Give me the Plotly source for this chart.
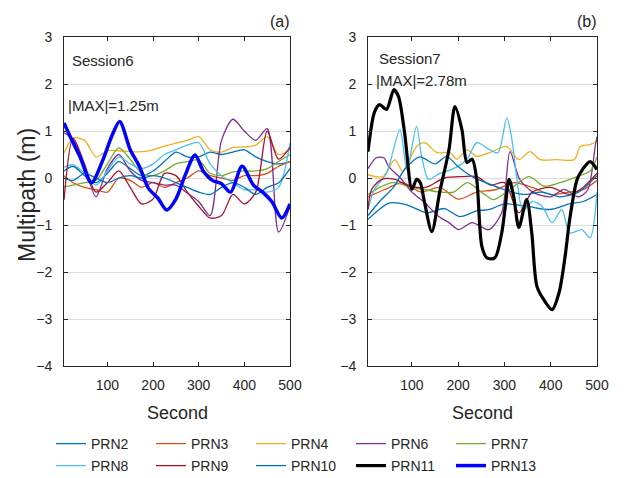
import plotly.graph_objects as go

# ---------------- data ----------------
prn_names = ["PRN2", "PRN3", "PRN4", "PRN6", "PRN7", "PRN8", "PRN9", "PRN10", "PRN11", "PRN13"]
prn_colors = ["#0072BD", "#D95319", "#EDB120", "#7E2F8E", "#77AC30",
              "#4DBEEE", "#A2142F", "#0072BD", "#000000", "#0000FF"]
x_ticks = [100, 200, 300, 400, 500]
y_ticks = [3, 2, 1, 0, -1, -2, -3, -4]

# Session 6 (panel a) - common time grid for thin lines
t_a = [5, 25, 50, 75, 100, 125, 150, 175, 200, 225, 250, 275, 300, 325, 350, 375, 400, 425, 450, 475, 500]
a_prn2 = [0.15, 0.25, 0.05, -0.1, 0.1, 0.35, 0.2, 0.05, 0.15, 0.35, 0.55, 0.45, 0.45, 0.55, 0.5, 0.55, 0.6, 0.45, 0.35, 0.3, 0.35]
a_prn3 = [0.05, -0.1, -0.2, -0.25, -0.3, 0.0, -0.05, -0.2, -0.1, -0.2, -0.1, 0.0, 0.15, 0.05, 0.0, -0.05, 0.05, 0.05, 0.1, 0.25, 0.35]
a_prn4 = [0.53, 0.85, 0.8, 0.45, 0.58, 0.58, 0.56, 0.56, 0.6, 0.68, 0.74, 0.8, 0.88, 0.6, 0.55, 0.65, 0.66, 0.7, 0.88, 0.5, 0.6]
a_prn6 = [0.96, 0.82, 0.25, -0.4, 0.2, 0.5, 0.15, -0.05, -0.1, -0.15, -0.15, -0.32, -0.5, -0.8, 0.8, 1.25, 1.0, 0.8, 1.05, -1.15, -0.6]
a_prn7 = [-0.19, -0.15, -0.1, -0.05, 0.3, 0.64, 0.4, 0.1, 0.05, 0.15, 0.3, 0.35, 0.38, 0.1, 0.05, 0.13, 0.15, 0.15, 0.2, 0.35, 0.5]
a_prn8 = [0.23, 0.28, 0.1, -0.15, 0.15, 0.45, 0.3, 0.2, 0.3, 0.5, 0.6, 0.7, 0.75, 0.3, 0.05, -0.1, -0.25, -0.25, -0.3, -0.2, 0.75]
a_prn9 = [-0.47, 0.85, 0.3, -0.3, -0.1, 0.15, -0.2, -0.55, -0.45, 0.1, 0.05, -0.3, -0.6, -0.85, -0.8, -0.35, -0.55, -0.3, 1.0, 0.4, 0.65]
a_prn10 = [0.0, -0.05, 0.1, 0.0, -0.1, 0.0, 0.05, 0.0, 0.05, 0.0, -0.1, -0.2, -0.3, -0.35, -0.2, -0.1, -0.2, -0.35, -0.2, -0.1, 0.2]
# PRN13 (thick) in panel a
t_a13 = [5, 20, 40, 65, 90, 110, 127, 150, 170, 190, 210, 230, 250, 270, 292, 310, 330, 350, 370, 395, 420, 440, 460, 482, 500]
a_prn13 = [1.17, 0.85, 0.45, -0.1, 0.38, 0.9, 1.2, 0.6, 0.25, -0.22, -0.42, -0.68, -0.45, 0.05, 0.49, 0.15, -0.05, -0.12, -0.3, 0.25, -0.15, -0.3, -0.5, -0.85, -0.55]

# Session 7 (panel b)
t_b2 = [5, 52, 89, 132, 170, 203, 240, 268, 300, 348, 398, 440, 470, 500]
b_prn2 = [-0.88, -0.53, -0.57, -0.74, -0.65, -0.82, -0.7, -0.67, -0.55, -0.6, -0.67, -0.55, -0.5, -0.35]
t_b3 = [5, 40, 80, 120, 160, 200, 240, 280, 320, 360, 400, 440, 470, 500]
b_prn3 = [-0.4, -0.25, -0.1, -0.3, -0.2, -0.45, -0.3, -0.25, -0.1, -0.2, -0.35, -0.3, -0.25, -0.05]
t_b4 = [5, 37, 63, 80, 110, 128, 154, 182, 197, 219, 240, 268, 305, 331, 355, 377, 414, 451, 464, 485, 500]
b_prn4 = [0.07, 0.03, 0.39, 0.14, 0.67, 0.75, 0.54, 0.54, 0.4, 0.6, 0.46, 0.54, 0.67, 0.39, 0.56, 0.39, 0.39, 0.39, 0.67, 0.71, 0.78]
t_b6 = [5, 23, 39, 50, 75, 100, 125, 158, 180, 201, 230, 266, 294, 312, 333, 363, 400, 429, 460, 480, 496, 500]
b_prn6 = [0.2, 0.43, 0.43, 0.24, 0.0, -0.3, -0.5, -0.82, -0.95, -1.1, -0.95, -1.1, -0.74, 0.56, -0.03, -0.31, -0.4, -0.24, -0.4, -0.25, 0.67, 0.88]
t_b7 = [5, 30, 60, 100, 130, 160, 190, 220, 250, 277, 312, 353, 385, 420, 457, 485, 500]
b_prn7 = [-0.35, -0.2, -0.1, -0.2, -0.25, -0.3, -0.3, -0.1, -0.3, -0.46, -0.24, 0.03, -0.17, -0.1, 0.03, 0.15, 0.45]
t_b8 = [5, 19, 45, 74, 89, 110, 121, 136, 160, 190, 219, 240, 268, 286, 305, 316, 327, 340, 360, 381, 403, 424, 441, 467, 485, 500]
b_prn8 = [-0.67, -0.24, 0.1, 1.03, 0.18, 1.1, 0.46, -0.03, 0.1, 0.2, 0.4, 0.75, 0.6, 0.54, 1.28, 0.82, -0.03, -0.7, -0.5, -0.6, -0.95, -0.67, -1.17, -1.1, -1.27, -0.3]
t_b9 = [5, 13, 35, 63, 93, 130, 170, 210, 240, 270, 300, 331, 360, 400, 440, 470, 500]
b_prn9 = [-0.67, -0.24, -0.03, -0.03, -0.17, -0.2, 0.0, 0.03, 0.03, -0.15, -0.1, -0.74, -0.3, -0.2, -0.35, -0.2, 0.1]
t_b10 = [5, 30, 60, 84, 117, 150, 175, 200, 230, 260, 300, 340, 380, 420, 460, 500]
b_prn10 = [-0.8, -0.5, -0.2, 0.18, 0.45, 0.3, 0.46, 0.24, 0.03, -0.1, -0.25, -0.35, -0.3, -0.4, -0.3, 0.05]
t_b11 = [5, 19, 30, 45, 61, 71, 84, 100, 110, 118, 126, 143, 160, 180, 193, 208, 219, 230, 240, 251, 262, 279, 294, 301, 310, 320, 331, 348, 359, 370, 385, 403, 418, 431, 441, 457, 470, 485, 500]
b_prn11 = [0.56, 1.4, 1.56, 1.46, 1.88, 1.73, 0.97, -0.24, -0.03, -0.1, -0.46, -1.14, -0.3, 0.6, 1.52, 1.03, 0.33, 0.4, -0.03, -1.45, -1.7, -1.7, -1.17, -0.67, -0.03, -0.4, -1.05, -0.46, -1.17, -2.3, -2.59, -2.8, -2.44, -1.67, -0.88, -0.03, 0.2, 0.35, 0.18]

# ---------------- figure ----------------
W, H = 632, 478
def fx(p):
    return p / W
def fy(p):
    return 1 - p / H

FONT = "Liberation Sans, Arial, sans-serif"
TXT = "#262626"

panel_a = {
    "PRN2": (t_a, a_prn2), "PRN3": (t_a, a_prn3), "PRN4": (t_a, a_prn4),
    "PRN6": (t_a, a_prn6), "PRN7": (t_a, a_prn7), "PRN8": (t_a, a_prn8),
    "PRN9": (t_a, a_prn9), "PRN10": (t_a, a_prn10), "PRN13": (t_a13, a_prn13),
}
panel_b = {
    "PRN2": (t_b2, b_prn2), "PRN3": (t_b3, b_prn3), "PRN4": (t_b4, b_prn4),
    "PRN6": (t_b6, b_prn6), "PRN7": (t_b7, b_prn7), "PRN8": (t_b8, b_prn8),
    "PRN9": (t_b9, b_prn9), "PRN10": (t_b10, b_prn10), "PRN11": (t_b11, b_prn11),
}
thick = {"PRN11": 3.2, "PRN13": 3.5}

fig = go.Figure()

def add_panel(panel, xa, ya):
    names = [n for n in prn_names if n in panel and n not in thick] + \
            [n for n in prn_names if n in panel and n in thick]
    for n in names:
        i = prn_names.index(n)
        t, v = panel[n]
        show = (n != "PRN11") if xa == "x" else (n == "PRN11")
        fig.add_trace(go.Scatter(
            x=t, y=v, mode="lines", name=n,
            line=dict(color=prn_colors[i], width=thick.get(n, 1.3),
                      shape="spline", smoothing=0.8),
            xaxis=xa, yaxis=ya, showlegend=show,
            legend="legend" if i < 5 else "legend2",
            legendrank=i + 1,
        ))

add_panel(panel_a, "x", "y")
add_panel(panel_b, "x2", "y2")

axis_common = dict(
    showline=True, linecolor=TXT, linewidth=1, mirror="allticks",
    ticks="inside", ticklen=4, tickcolor=TXT, zeroline=False, automargin=False,
    tickfont=dict(family=FONT, size=14, color=TXT),
)

ydom = [fy(366), fy(37)]
leg_common = dict(orientation="h", xanchor="left", yanchor="middle",
                  entrywidth=55, entrywidthmode="pixels", traceorder="normal",
                  font=dict(family=FONT, size=14, color=TXT), bgcolor="rgba(0,0,0,0)")
fig.update_layout(
    width=W, height=H,
    margin=dict(l=0, r=0, t=0, b=0, autoexpand=False),
    paper_bgcolor="white", plot_bgcolor="white",
    xaxis=dict(domain=[fx(64), fx(290)], range=[5, 500], tickvals=x_ticks,
               showgrid=False, anchor="y", ticklabelstandoff=6, **axis_common),
    yaxis=dict(domain=ydom, range=[-4, 3], tickvals=y_ticks, showgrid=True,
               gridcolor="#dedede", gridwidth=1, anchor="x", ticklabelstandoff=8, **axis_common),
    xaxis2=dict(domain=[fx(368), fx(597)], range=[5, 500], tickvals=x_ticks,
                showgrid=False, anchor="y2", ticklabelstandoff=6, **axis_common),
    yaxis2=dict(domain=ydom, range=[-4, 3], tickvals=y_ticks, showgrid=True,
                gridcolor="#dedede", gridwidth=1, anchor="x2", ticklabelstandoff=8, **axis_common),
    legend=dict(x=fx(51), y=fy(444), **leg_common),
    legend2=dict(x=fx(51), y=fy(466), **leg_common),
    showlegend=True,
    hovermode=False,
)

def ann(text, x, y, size, xanchor="left", textangle=0, family=FONT):
    fig.add_annotation(text=text, x=fx(x), y=fy(y), xref="paper", yref="paper",
                       xanchor=xanchor, yanchor="middle", showarrow=False,
                       textangle=textangle,
                       font=dict(family=family, size=size, color=TXT))

ann("Session6", 70, 60, 15)
ann("|MAX|=1.25m", 66, 105, 15)
ann("(a)", 292, 22, 16, xanchor="right")
ann("Session7", 377, 58, 15)
ann("|MAX|=2.78m", 374, 80, 15)
ann("(b)", 599, 22, 16, xanchor="right")
ann("Second", 177, 413, 18, xanchor="center")
ann("Second", 482, 413, 18, xanchor="center")
ann("Multipath (m)", 27, 195, 23, xanchor="center", textangle=-90)

fig.write_html("out.html", config={"displayModeBar": False},
               post_script="document.body.style.margin='0px';document.body.style.overflow='hidden';")
